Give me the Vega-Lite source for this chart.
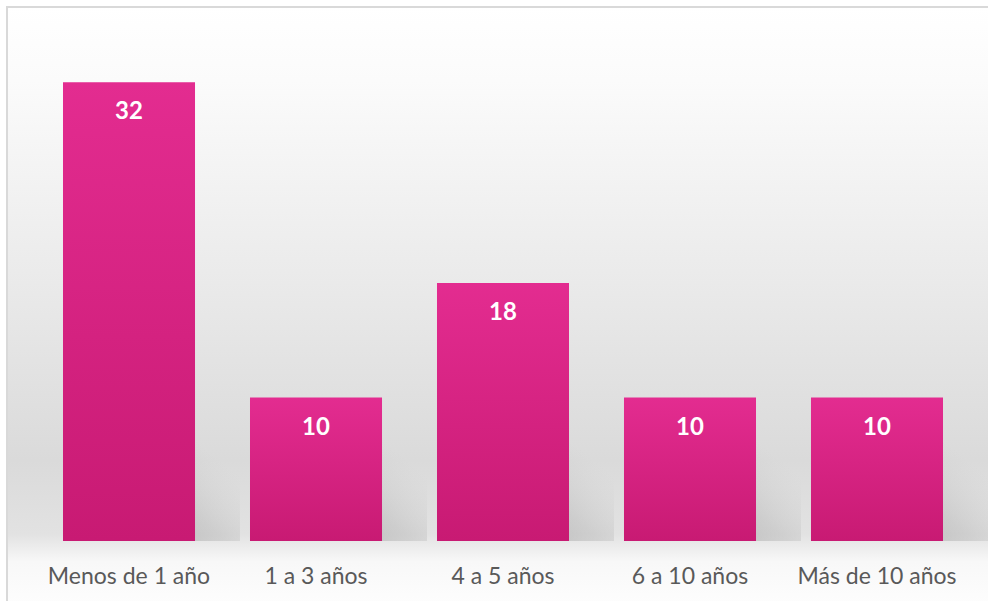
{
  "$schema": "https://vega.github.io/schema/vega-lite/v6.json",
  "width": 983,
  "height": 613,
  "autosize": {"type": "none"},
  "padding": {"left": 7, "top": 7, "right": 0, "bottom": 0},
  "background": "#ffffff",
  "config": {
    "view": {
      "stroke": "#d9d9d9",
      "strokeWidth": 2,
      "fill": {
        "gradient": "linear",
        "x1": 0, "y1": 0, "x2": 0, "y2": 1,
        "stops": [
          {"offset": 0, "color": "#ffffff"},
          {"offset": 0.12, "color": "#fbfbfb"},
          {"offset": 0.45, "color": "#eaeaea"},
          {"offset": 0.74, "color": "#dadada"},
          {"offset": 0.86, "color": "#e2e2e2"},
          {"offset": 0.905, "color": "#f8f8f8"},
          {"offset": 1, "color": "#ffffff"}
        ]
      }
    }
  },
  "data": {
    "values": [
      {"categoria": "Menos de 1 año", "valor": 32},
      {"categoria": "1 a 3 años", "valor": 10},
      {"categoria": "4 a 5 años", "valor": 18},
      {"categoria": "6 a 10 años", "valor": 10},
      {"categoria": "Más de 10 años", "valor": 10}
    ]
  },
  "encoding": {
    "x": {
      "field": "categoria",
      "type": "nominal",
      "sort": null,
      "scale": {"paddingInner": 0.294, "paddingOuter": 0.2754, "align": 0.5437},
      "axis": {
        "title": null,
        "orient": "bottom",
        "offset": -57,
        "domain": false,
        "ticks": false,
        "labelAngle": 0,
        "labelFont": "Lato",
        "labelFontSize": 23,
        "labelColor": "#595959",
        "labelPadding": 2,
        "labelBaseline": "top"
      }
    }
  },
  "layer": [
    {
      "mark": {
        "type": "bar",
        "xOffset": 45,
        "fill": {
          "gradient": "linear",
          "x1": 0, "y1": 1, "x2": 1, "y2": 0,
          "stops": [
            {"offset": 0, "color": "rgba(130,130,130,0.6)"},
            {"offset": 0.45, "color": "rgba(160,160,160,0.3)"},
            {"offset": 0.8, "color": "rgba(200,200,200,0)"}
          ]
        }
      },
      "encoding": {
        "y": {"datum": 7.5, "type": "quantitative", "scale": {"domain": [-5.51, 37.24], "nice": false, "zero": false}, "axis": null},
        "y2": {"datum": 0}
      }
    },
    {
      "mark": {
        "type": "bar",
        "fill": {
          "gradient": "linear",
          "x1": 0, "y1": 0, "x2": 0, "y2": 1,
          "stops": [
            {"offset": 0, "color": "#e32c90"},
            {"offset": 1, "color": "#c81a73"}
          ]
        }
      },
      "encoding": {
        "y": {"field": "valor", "type": "quantitative"},
        "y2": {"datum": 0}
      }
    },
    {
      "mark": {
        "type": "text",
        "font": "Lato",
        "fontWeight": "bold",
        "fontSize": 24,
        "color": "#ffffff",
        "baseline": "middle",
        "dy": 30
      },
      "encoding": {
        "y": {"field": "valor", "type": "quantitative"},
        "text": {"field": "valor", "type": "quantitative"}
      }
    }
  ]
}
